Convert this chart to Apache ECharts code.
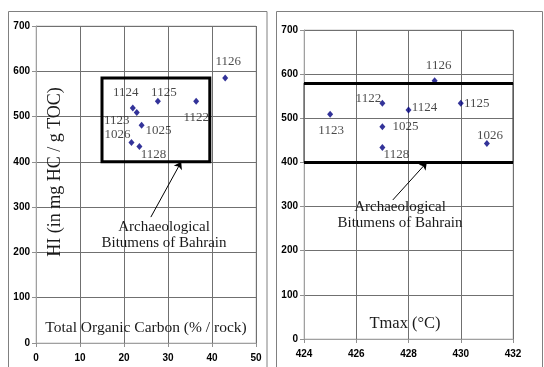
<!DOCTYPE html>
<html>
<head>
<meta charset="utf-8">
<script src="https://cdn.jsdelivr.net/npm/echarts@6/dist/echarts.min.js"></script>
<style>
html,body{margin:0;padding:0;background:#fff;}
#chart{width:544px;height:367px;}
</style>
</head>
<body>
<div id="chart"></div>
<script>
// ---- data ----
const sampleNames = ['1126','1125','1122','1124','1123','1025','1026','1128'];
const tocValues   = [43.0, 27.7, 36.4, 22.0, 22.9, 24.0, 21.7, 23.5];
const hiValues    = [585, 534, 534, 519, 509, 481, 443, 434];
const tmaxValues  = [429, 430, 427, 428, 425, 427, 431, 427];
const hiTicks   = [0,100,200,300,400,500,600,700];
const tocTicks  = [0,10,20,30,40,50];
const tmaxTicks = [424,426,428,430,432];
const leftBox   = {x1:15, x2:39.5, y1:400, y2:585};
const rightBox  = {x1:424, x2:432, y1:400, y2:580};
const leftArrow  = [[26.1, 278], [33.0, 400]];
const rightArrow = [[427.4, 315], [428.7, 400]];

// ---- layout (label offsets in px) ----
const leftOffsets = {'1126':[3,-17],'1125':[6,-9],'1122':[0,16],'1124':[-7,-15],
  '1123':[-20,8],'1025':[17,5],'1026':[-14,-8],'1128':[14,8]};
const rightOffsets = {'1126':[4,-15],'1125':[16,0],'1122':[-14,-5],'1124':[16,-2],
  '1123':[1,16],'1025':[23,0],'1026':[3,-8],'1128':[14,7]};

const serif = '"Liberation Serif","Times New Roman",serif';
const sans = '"Liberation Sans",Arial,sans-serif';
const gridColor = '#707070';
const textColor = '#1a1a1a';

function mkData(xs, offs){
  return sampleNames.map((n,i)=>({
    name:n, value:[xs[i], hiValues[i]],
    label:{offset: offs[n]}
  }));
}

function xAxisCfg(idx, ticks){
  return {
    type:'value', gridIndex:idx, min:ticks[0], max:ticks[ticks.length-1],
    interval: ticks[1]-ticks[0],
    axisLine:{show:true, onZero:false, lineStyle:{color:'#a0a0a0'}},
    axisTick:{show:true, length:4, inside:false, lineStyle:{color:'#909090'}},
    axisLabel:{color:'#000', fontFamily:sans, fontWeight:'bold', fontSize:10, margin:10},
    splitLine:{show:true, lineStyle:{color:gridColor, width:1}}
  };
}
function yAxisCfg(idx){
  return {
    type:'value', gridIndex:idx, min:hiTicks[0], max:hiTicks[hiTicks.length-1],
    interval: hiTicks[1]-hiTicks[0],
    axisLine:{show:true, onZero:false, lineStyle:{color:'#a0a0a0'}},
    axisTick:{show:true, length:4, inside:false, lineStyle:{color:'#909090'}},
    axisLabel:{color:'#000', fontFamily:sans, fontWeight:'bold', fontSize:10, margin:6},
    splitLine:{show:true, lineStyle:{color:gridColor, width:1}}
  };
}

const labelCommon = {
  show:true, position:'inside', formatter:'{b}', align:'center', verticalAlign:'middle',
  color:textColor, fontFamily:serif, fontSize:13
};

const option = {
  animation:false,
  backgroundColor:'#fff',
  grid:[
    {left:36, right:288, top:26, bottom:24, show:true, borderColor:'#c8c8c8', borderWidth:1, backgroundColor:'transparent'},
    {left:304, right:31, top:30, bottom:28, show:true, borderColor:'#c8c8c8', borderWidth:1, backgroundColor:'transparent'}
  ],
  xAxis:[xAxisCfg(0, tocTicks), xAxisCfg(1, tmaxTicks)],
  yAxis:[yAxisCfg(0), yAxisCfg(1)],
  series:[
    {
      type:'scatter', xAxisIndex:0, yAxisIndex:0, symbol:'diamond', symbolSize:[6,7],
      itemStyle:{color:'#00007f'}, label:labelCommon,
      data: mkData(tocValues, leftOffsets),
      markArea:{silent:true, itemStyle:{color:'transparent', borderColor:'#000', borderWidth:3},
        data:[[{coord:[leftBox.x1, leftBox.y1]},{coord:[leftBox.x2, leftBox.y2]}]]},
      markLine:{silent:true, symbol:['none','arrow'], symbolSize:7, label:{show:false},
        lineStyle:{color:'#000', width:1, type:'solid'},
        data:[[{coord:leftArrow[0]},{coord:leftArrow[1]}]]}
    },
    {
      type:'scatter', xAxisIndex:1, yAxisIndex:1, symbol:'diamond', symbolSize:[6,7],
      itemStyle:{color:'#00007f'}, label:labelCommon,
      data: mkData(tmaxValues, rightOffsets),
      markArea:{silent:true, itemStyle:{color:'transparent', borderColor:'#444', borderWidth:1},
        data:[[{coord:[rightBox.x1, rightBox.y1]},{coord:[rightBox.x2, rightBox.y2]}]]},
      markLine:{silent:true, symbol:['none','arrow'], symbolSize:7, label:{show:false},
        lineStyle:{color:'#000', width:1, type:'solid'},
        data:[[{coord:rightArrow[0]},{coord:rightArrow[1]}]]}
    },
    {
      type:'scatter', xAxisIndex:1, yAxisIndex:1, data:[],
      markLine:{silent:true, symbol:['none','none'], label:{show:false},
        lineStyle:{color:'#000', width:3, type:'solid'},
        data:[[{coord:[rightBox.x1, rightBox.y1]},{coord:[rightBox.x2, rightBox.y1]}],
              [{coord:[rightBox.x1, rightBox.y2]},{coord:[rightBox.x2, rightBox.y2]}]]}
    }
  ],
  graphic:[
    {type:'rect', silent:true, z:-1, shape:{x:8.5, y:11.5, width:258.5, height:400},
      style:{fill:'none', stroke:'#808080', lineWidth:1}},
    {type:'rect', silent:true, z:-1, shape:{x:276.5, y:11.5, width:266, height:400},
      style:{fill:'none', stroke:'#808080', lineWidth:1}},
    {type:'text', silent:true, z:100, x:55, y:172, rotation:Math.PI/2,
      style:{text:'HI (in mg HC / g TOC)', fontFamily:serif, fontSize:18, fill:textColor,
        align:'center', verticalAlign:'middle'}},
    {type:'text', silent:true, z:100, x:146, y:328,
      style:{text:'Total Organic Carbon (% / rock)', fontFamily:serif, fontSize:15.5, fill:textColor,
        align:'center', verticalAlign:'middle'}},
    {type:'text', silent:true, z:100, x:405, y:324,
      style:{text:'Tmax (°C)', fontFamily:serif, fontSize:16.5, fill:textColor,
        align:'center', verticalAlign:'middle'}},
    {type:'text', silent:true, z:100, x:164, y:235,
      style:{text:'Archaeological\nBitumens of Bahrain', fontFamily:serif, fontSize:15, lineHeight:16,
        fill:textColor, align:'center', verticalAlign:'middle'}},
    {type:'text', silent:true, z:100, x:400, y:215,
      style:{text:'Archaeological\nBitumens of Bahrain', fontFamily:serif, fontSize:15, lineHeight:16,
        fill:textColor, align:'center', verticalAlign:'middle'}}
  ]
};

const chart = echarts.init(document.getElementById('chart'), null, {renderer:'canvas'});
chart.setOption(option);
</script>
</body>
</html>
